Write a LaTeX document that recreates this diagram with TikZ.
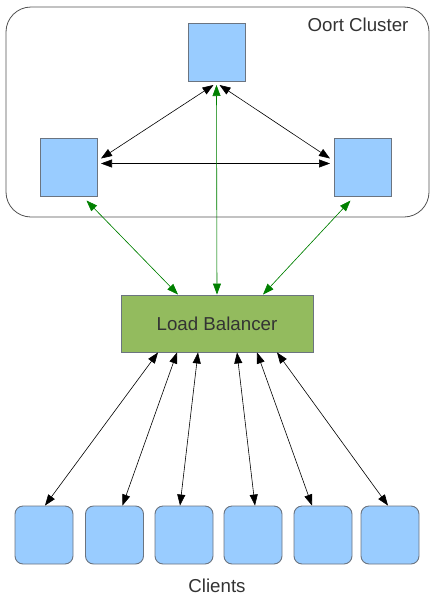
\documentclass[tikz,border=0pt]{standalone}
\usepackage{fontspec}
\setmainfont{Liberation Sans}
\usetikzlibrary{arrows.meta}

\definecolor{serverblue}{HTML}{99CCFF}
\definecolor{lbgreen}{HTML}{93BB5E}
\definecolor{boxline}{HTML}{6B7480}
\definecolor{linkgreen}{HTML}{008000}
\definecolor{textgray}{HTML}{333333}

\tikzset{
    server/.style={draw=boxline, fill=serverblue, line width=0.9pt,
        minimum width=57pt, minimum height=58pt, inner sep=0pt, outer sep=4pt},
    client/.style={draw=boxline, fill=serverblue, line width=0.9pt,
        minimum width=58pt, minimum height=58pt, inner sep=0pt, rounded corners=8pt},
    balancer/.style={draw=boxline, fill=lbgreen, line width=0.9pt,
        minimum width=192pt, minimum height=57pt, inner sep=0pt},
    label/.style={text=textgray, font=\fontsize{18.7}{22}\selectfont},
    link/.style={{Triangle[length=11pt,width=8pt]}-{Triangle[length=11pt,width=8pt]}, line width=0.6pt},
    greenlink/.style={link, draw=linkgreen, fill=linkgreen}
}

\begin{document}
\begin{tikzpicture}[x=1pt, y=-1pt]
        \useasboundingbox (0,0) rectangle (434,600);

        % cluster frame
        \draw[draw=textgray!85, line width=0.8pt, rounded corners=25pt] (6,7) rectangle (429,217);
        \node[label] (title) at (358, 25) {Oort Cluster};

        \node[server] (s0) at (216.5, 52) {};
        \node[server] (s1) at (68.5, 167.5) {};
        \node[server] (s2) at (362.5, 167.5) {};

        \node[balancer] (lb) at (217, 323.5) {};
        \node[label] (lbtext) at (217, 324) {Load Balancer};

        \node[client] (c1) at (44, 535) {};
        \node[client] (c2) at (114.5, 535) {};
        \node[client] (c3) at (184, 535) {};
        \node[client] (c4) at (253, 535) {};
        \node[client] (c5) at (323, 535) {};
        \node[client] (c6) at (390, 535) {};
        \node[label] (clients) at (217, 586) {Clients};

        \draw[link] ([xshift=-3pt]s0.south) -- ([yshift=9pt]s1.east);
        \draw[link] ([xshift=3pt]s0.south) -- ([yshift=9pt]s2.west);
        \draw[link] ([yshift=4pt]s1.east) -- ([yshift=4pt]s2.west);

        \draw[greenlink] (s0.south) -- (lb.north);
        \draw[greenlink] ([xshift=18pt]s1.south) -- ([xshift=-39pt]lb.north);
        \draw[greenlink] ([xshift=-12pt]s2.south) -- ([xshift=46pt]lb.north);

        \draw[link] ([xshift=-59pt]lb.south) -- ([xshift=1pt]c1.north);
        \draw[link] ([xshift=-40pt]lb.south) -- ([xshift=8pt]c2.north);
        \draw[link] ([xshift=-19pt]lb.south) -- ([xshift=-4pt]c3.north);
        \draw[link] ([xshift=20pt]lb.south) -- ([xshift=2pt]c4.north);
        \draw[link] ([xshift=40pt]lb.south) -- ([xshift=-11pt]c5.north);
        \draw[link] ([xshift=60pt]lb.south) -- ([xshift=-2pt]c6.north);
    \end{tikzpicture}
\end{document}
